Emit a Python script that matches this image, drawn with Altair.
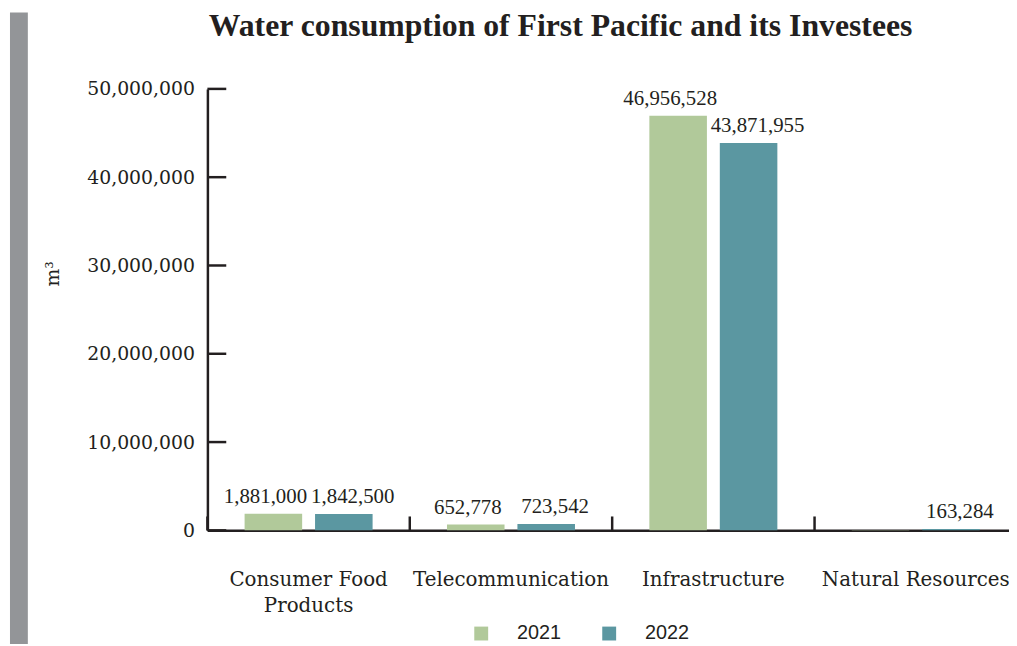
import altair as alt
import pandas as pd

categories = ["Consumer Food Products", "Telecommunication", "Infrastructure", "Natural Resources"]
years = ["2021", "2022"]
values_2021 = [1881000, 652778, 46956528, 30000]
values_2022 = [1842500, 723542, 43871955, 163284]
labels_2021 = ["1,881,000", "652,778", "46,956,528", ""]
labels_2022 = ["1,842,500", "723,542", "43,871,955", "163,284"]
y_ticks = [0, 10000000, 20000000, 30000000, 40000000, 50000000]
title_text = "Water consumption of First Pacific and its Investees"
colors = ["#b1c99a", "#5b97a1"]
ink = "#231f20"

rows = []
for i, c in enumerate(categories):
    rows.append(dict(cat=c, year=years[0], value=values_2021[i], label=labels_2021[i]))
    rows.append(dict(cat=c, year=years[1], value=values_2022[i], label=labels_2022[i]))
df = pd.DataFrame(rows)

x_scale = alt.Scale(domain=categories, range=[0, 816], paddingInner=0, paddingOuter=0)
xoff_scale = alt.Scale(domain=years, paddingInner=0.183, paddingOuter=0.528)
y_scale = alt.Scale(domain=[0, 50000000], nice=False, zero=True)
color_scale = alt.Scale(domain=years, range=colors)

label_expr = ("datum.label == 'Consumer Food Products' ? ['Consumer Food', 'Products'] : datum.label")

x_axis = alt.Axis(title=None, ticks=False, tickSize=0, labelAngle=0,
                  labelPadding=40, labelFont="DejaVu Serif", labelFontSize=20,
                  labelColor=ink, labelExpr=label_expr, labelLineHeight=26,
                  labelLimit=400, labelOverlap=False,
                  domainColor=ink, domainWidth=2.5, zindex=0)
y_axis = alt.Axis(values=y_ticks, format=",d", ticks=False, tickSize=0,
                  labelPadding=13, labelFont="DejaVu Serif", labelFontSize=19,
                  labelColor=ink, grid=False, domainColor=ink, domainWidth=2.5,
                  title="m³", titleX=-156, titleY=186, titleAngle=270,
                  titleFont="DejaVu Serif", titleFontSize=19,
                  titleFontWeight="normal", titleColor=ink,
                  titleAlign="center", titleBaseline="middle")

base = alt.Chart(df)

bars = base.mark_bar().encode(
    x=alt.X("cat:N", scale=x_scale, sort=categories, axis=x_axis),
    xOffset=alt.XOffset("year:N", scale=xoff_scale),
    y=alt.Y("value:Q", scale=y_scale, axis=y_axis),
    color=alt.Color("year:N", scale=color_scale,
                    legend=alt.Legend(orient="none", legendX=266, legendY=539,
                                      direction="horizontal", title=None,
                                      symbolType="square", symbolSize=196,
                                      symbolStrokeWidth=0, labelFont="Liberation Sans",
                                      labelFontSize=20, labelColor=ink, labelOffset=26,
                                      columnPadding=38, padding=0)),
)


def label_layer(year, shift):
    return base.transform_filter(alt.datum.year == year).mark_text(
        font="Liberation Serif", fontSize=21, color=ink,
        baseline="bottom", dy=-7, dx=shift).encode(
        x=alt.X("cat:N", scale=x_scale, sort=categories, axis=x_axis),
        xOffset=alt.XOffset("year:N", scale=xoff_scale),
        y=alt.Y("value:Q", scale=y_scale, axis=y_axis),
        text="label:N",
    )


texts_2021 = label_layer(years[0], -8)
texts_2022 = label_layer(years[1], 9)

ytick_df = pd.DataFrame({"value": y_ticks})
yticks = alt.Chart(ytick_df).mark_rule(color=ink, strokeWidth=2.5).encode(
    y=alt.Y("value:Q", scale=y_scale, axis=y_axis),
    x=alt.value(0), x2=alt.value(19),
)

xtick_df = pd.DataFrame({"cat": categories})
xticks = alt.Chart(xtick_df).mark_rule(color=ink, strokeWidth=2.5).encode(
    x=alt.X("cat:N", scale=x_scale, sort=categories, bandPosition=0, axis=x_axis),
    y=alt.value(445), y2=alt.value(431),
)

side_bar = alt.Chart(pd.DataFrame({"a": [0]})).mark_rect(color="#939598").encode(
    x=alt.value(-199), x2=alt.value(-181), y=alt.value(-77), y2=alt.value(565),
)

title = alt.Chart(pd.DataFrame({"t": [title_text]})).mark_text(
    font="Liberation Serif", fontSize=32, fontWeight="bold", color=ink,
    align="center", baseline="alphabetic").encode(
    x=alt.value(356), y=alt.value(-53), text="t:N",
)

chart = alt.layer(side_bar, bars, texts_2021, texts_2022, yticks, xticks, title).properties(
    width=800, height=445,
    autosize=alt.AutoSizeParams(type="none"),
    padding={"left": 201, "top": 79, "right": 8, "bottom": 112},
    background="white",
).configure_view(stroke=None)

chart.save("out.html", embed_options={"renderer": "svg", "actions": False})
